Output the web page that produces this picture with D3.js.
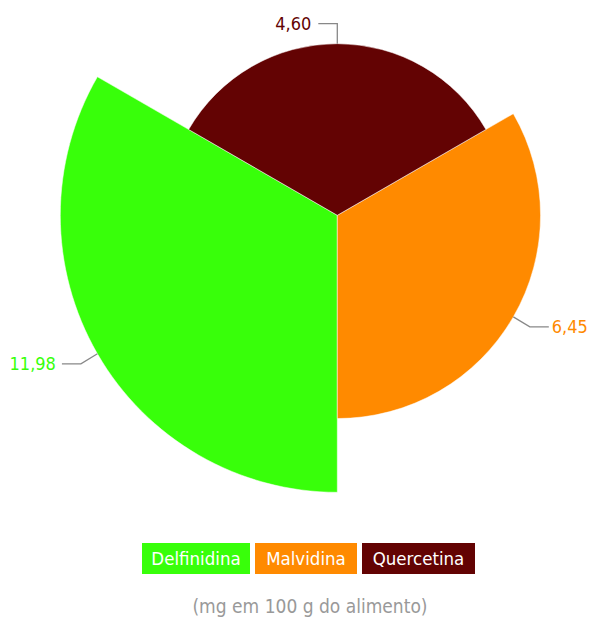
<!DOCTYPE html>
<html><head><meta charset="utf-8">
<script src="https://cdn.jsdelivr.net/npm/d3@7"></script>
<style>body{margin:0;background:#fff;} svg{display:block;}</style>
</head><body>
<svg id="chart" width="593" height="617"></svg>
<script>
const categories = ["Delfinidina", "Malvidina", "Quercetina"];
const values = [11.98, 6.45, 4.60];
const labels = ["11,98", "6,45", "4,60"];
const colors = ["#38ff0a", "#ff8a00", "#630303"];
const subtitle = "(mg em 100 g do alimento)";

const svg = d3.select("#chart");
const font = "'Liberation Sans Narrow','DejaVu Sans Condensed','Roboto Condensed',sans-serif";
const cx = 337.3, cy = 215.3;
const r = d3.scaleSqrt().domain([0, d3.max(values)]).range([0, 277]);

// angles: Quercetina top, Malvidina right-bottom, Delfinidina left
const startAngles = {"Quercetina": -Math.PI/3, "Malvidina": Math.PI/3, "Delfinidina": Math.PI};
const data = categories.map((c, i) => ({
  cat: c, value: values[i], label: labels[i], color: colors[i],
  startAngle: startAngles[c], endAngle: startAngles[c] + 2*Math.PI/3
}));

const g = svg.append("g").attr("transform", `translate(${cx},${cy})`);
const arc = d3.arc().innerRadius(0).outerRadius(d => r(d.value));
g.selectAll("path.slice").data(data).join("path")
  .attr("class", "slice")
  .attr("d", arc)
  .attr("fill", d => d.color)
  .attr("stroke", "#fff").attr("stroke-width", 0.5);

// leader lines and labels
data.forEach(d => {
  const mid = (d.startAngle + d.endAngle) / 2;
  const rr = r(d.value);
  const px = Math.sin(mid) * rr, py = -Math.cos(mid) * rr;
  let pts, tx, ty, anchor;
  if (d.cat === "Quercetina") {
    pts = [[px, py], [px, py - 20], [px - 19, py - 20]];
    tx = px - 26; ty = py - 20; anchor = "end";
  } else if (d.cat === "Malvidina") {
    const kx = px + 16.5, ky = py + 10;
    pts = [[px, py], [kx, ky], [kx + 19, ky]];
    tx = kx + 22; ty = ky; anchor = "start";
  } else {
    const kx = px - 16.5, ky = py + 10;
    pts = [[px, py], [kx, ky], [kx - 19, ky]];
    tx = kx - 25; ty = ky; anchor = "end";
  }
  g.append("path")
    .attr("d", d3.line()(pts))
    .attr("fill", "none").attr("stroke", "#888").attr("stroke-width", 1.3);
  g.append("text")
    .attr("x", tx).attr("y", ty).attr("dy", "0.35em")
    .attr("text-anchor", anchor)
    .attr("font-family", font).attr("font-size", 18)
    .attr("fill", d.color)
    .text(d.label);
});

// legend
const legendX = [142, 255, 362];
const legendW = [108, 102, 113];
const lg = svg.append("g");
data.forEach((d, i) => {
  lg.append("rect").attr("x", legendX[i]).attr("y", 543).attr("width", legendW[i]).attr("height", 31)
    .attr("fill", d.color);
  lg.append("text").attr("x", legendX[i] + legendW[i]/2).attr("y", 558.5).attr("dy", "0.35em")
    .attr("text-anchor", "middle").attr("font-family", font).attr("font-size", 18.5)
    .attr("fill", "#fff").text(d.cat);
});

svg.append("text").attr("x", 310).attr("y", 606).attr("dy", "0.35em")
  .attr("text-anchor", "middle").attr("font-family", font).attr("font-size", 19)
  .attr("fill", "#999").text(subtitle);
</script>
</body></html>
